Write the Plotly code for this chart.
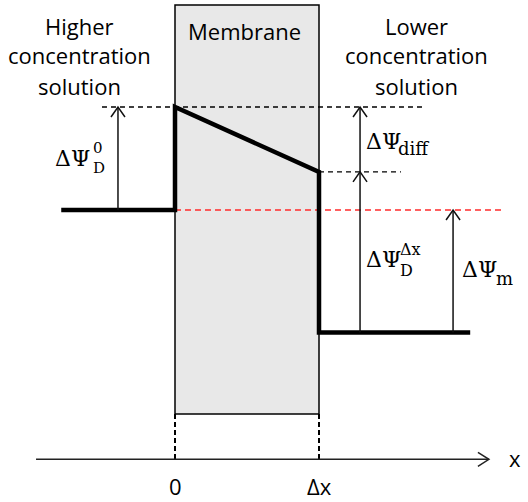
import plotly.graph_objects as go

# ---------------- data (diagram units) ----------------
# membrane spans x = 0 .. Δx (Δx = 1); potentials in units of ΔΨ_D^0
tick_labels = ["0", "Δx"]
tick_positions = [0.0, 1.0]
psi_left = 0.0      # bulk, higher concentration side
psi_D0 = 1.0        # just inside membrane at x = 0
psi_Ddx = 0.37      # inside membrane at x = Δx
psi_right = -1.19   # bulk, lower concentration side
left_solution_start = -0.79
right_solution_end = 2.05
left_header = ["Higher", "concentration", "solution"]
right_header = ["Lower", "concentration", "solution"]

# ---------------- layout geometry ----------------
W, H = 528, 502
PX_X, PX_Y = 144.0, 103.0          # pixels per diagram unit
X0_PX, Y0_PX = 175.0, 210.0         # pixel of origin
xr = [-X0_PX / PX_X, (W - X0_PX) / PX_X]
yr = [(Y0_PX - H) / PX_Y, Y0_PX / PX_Y]

mem_top, mem_bottom = 1.99, -1.98
axis_y = -2.42
axis_x = [-0.965, 2.18]
top_dash_x = [-0.507, 1.743]
mid_dash_end = 1.569
red_dash_end = 2.278
arrow_D0_x = -0.396
arrow_diff_x = 1.285
arrow_m_x = 1.931
header_rows = [1.786, 1.505, 1.204]

dx_px = 1.0 / PX_X
dy_px = 1.0 / PX_Y

fig = go.Figure()

def line(x, y, color="black", width=1.5, dash="solid"):
    fig.add_trace(go.Scatter(x=x, y=y, mode="lines",
                             line=dict(color=color, width=width, dash=dash),
                             hoverinfo="skip", showlegend=False))

def up_arrow(x, y_from, y_to):
    line([x, x], [y_from, y_to], color="#111111", width=1.5)
    line([x - 7 * dx_px, x, x + 7 * dx_px],
         [y_to - 10 * dy_px, y_to, y_to - 10 * dy_px], color="#111111", width=1.5)

# membrane
fig.add_shape(type="rect", x0=tick_positions[0], x1=tick_positions[1],
              y0=mem_bottom, y1=mem_top, fillcolor="#e8e8e8",
              line=dict(color="black", width=1.5), layer="below")

# dashed guides below membrane
for xp in tick_positions:
    line([xp, xp], [mem_bottom, axis_y], width=2, dash="5px,3px")

# x axis with arrow
line(axis_x, [axis_y, axis_y], color="#222222", width=1.5)
line([axis_x[1] - 11 * dx_px, axis_x[1], axis_x[1] - 11 * dx_px],
     [axis_y + 7 * dy_px, axis_y, axis_y - 7 * dy_px], color="#222222", width=1.5)

# horizontal dashed references
line(top_dash_x, [psi_D0, psi_D0], width=1.3, dash="5px,4px")
line([tick_positions[1], mid_dash_end], [psi_Ddx, psi_Ddx], width=1.3, dash="5px,4px")
line([tick_positions[0], red_dash_end], [psi_left, psi_left], color="#ff2a2a",
     width=1.3, dash="6px,4px")

# potential profile
line([left_solution_start, tick_positions[0], tick_positions[0], tick_positions[1],
      tick_positions[1], right_solution_end],
     [psi_left, psi_left, psi_D0, psi_Ddx, psi_right, psi_right], width=4.5)

# arrows
up_arrow(arrow_D0_x, psi_left, psi_D0)
up_arrow(arrow_diff_x, psi_Ddx, psi_D0)
up_arrow(arrow_diff_x, psi_right, psi_Ddx)
up_arrow(arrow_m_x, psi_right, psi_left)

ann = []
TXT = dict(family="Open Sans, sans-serif", size=22, color="black")
MATH = "DejaVu Serif, serif"

def text(x, y, s, font, xanchor="center", yanchor="middle", xshift=0, yshift=0,
         align="center"):
    ann.append(dict(x=x, y=y, text=s, showarrow=False, font=font,
                    xanchor=xanchor, yanchor=yanchor, xshift=xshift, yshift=yshift,
                    align=align))

for row_y, lt, rt in zip(header_rows, left_header, right_header):
    text(-0.66, row_y, lt, TXT)
    text(1.674, row_y, rt, TXT)
text(0.486, 1.738, "Membrane", TXT)
for p, lab in zip(tick_positions, tick_labels):
    text(p, axis_y, lab, TXT, yshift=-27)
text(axis_x[1], axis_y, "x", TXT, xshift=26, yshift=1)

big = dict(family=MATH, size=22, color="black")
small = dict(family=MATH, size=15, color="black")
stack16 = dict(family=MATH, size=16, color="black")
sub18 = dict(family=MATH, size=18, color="black")

mid0 = (psi_left + psi_D0) / 2
text(arrow_D0_x, mid0, "ΔΨ", big, xanchor="right", xshift=-26, yshift=0)
text(arrow_D0_x, mid0, "0<br>D", small, xanchor="left", xshift=-27, yshift=1,
     align="left")

midd = (psi_Ddx + psi_D0) / 2
text(arrow_diff_x, midd, "ΔΨ", big, xanchor="left", xshift=4, yshift=-2)
text(arrow_diff_x, midd, "diff", sub18, xanchor="left", xshift=36, yshift=-9)

midx = (psi_right + psi_Ddx) / 2
text(arrow_diff_x, midx, "ΔΨ", big, xanchor="left", xshift=4, yshift=-7)
text(arrow_diff_x, midx, "Δx<br>D", stack16, xanchor="left", xshift=38, yshift=-8,
     align="left")

midm = (psi_right + psi_left) / 2
text(arrow_m_x, midm, "ΔΨ", big, xanchor="left", xshift=7, yshift=2)
text(arrow_m_x, midm, "m", sub18, xanchor="left", xshift=41, yshift=-7)

fig.update_layout(
    width=W, height=H, autosize=False,
    margin=dict(l=0, r=0, t=0, b=0),
    paper_bgcolor="white", plot_bgcolor="white",
    xaxis=dict(range=xr, visible=False, fixedrange=True),
    yaxis=dict(range=yr, visible=False, fixedrange=True),
    annotations=ann, showlegend=False,
)
fig.write_html("out.html", config={"displayModeBar": False},
               post_script="document.body.style.margin='0';"
                           "document.body.style.overflow='hidden';")
